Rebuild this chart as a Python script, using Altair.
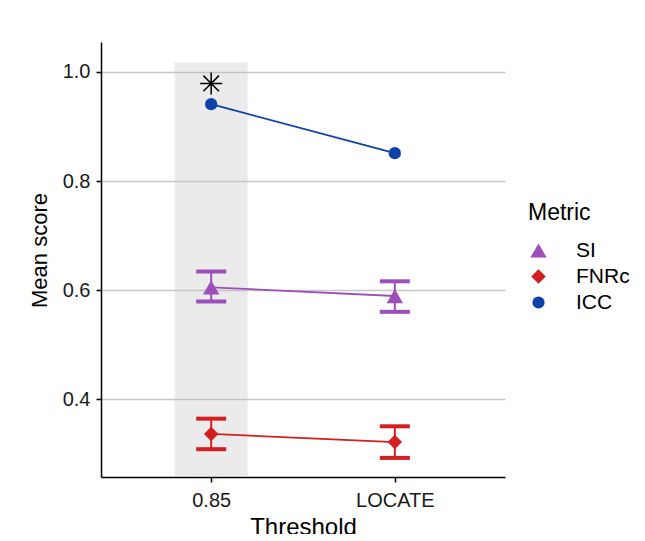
import altair as alt
import pandas as pd

thresholds = ["0.85", "LOCATE"]
metrics = ["SI", "FNRc", "ICC"]
colors = ["#9C4FBA", "#D41E20", "#0F42A8"]
shapes = ["triangle-up", "diamond", "circle"]
sizes = [270, 150, 100]

si_mean = [0.605, 0.589]
si_lo = [0.579, 0.560]
si_hi = [0.634, 0.616]
fnrc_mean = [0.336, 0.321]
fnrc_lo = [0.308, 0.292]
fnrc_hi = [0.364, 0.350]
icc_mean = [0.941, 0.851]

star_threshold = ["0.85"]
star_value = [0.979]

band_threshold = ["0.85"]
band_top = [1.018]
band_bottom = [0.257]

y_domain = [0.257, 1.055]
y_ticks = [0.4, 0.6, 0.8, 1.0]

rows = []
for i, t in enumerate(thresholds):
    rows.append(dict(Threshold=t, Metric="SI", mean=si_mean[i], lo=si_lo[i], hi=si_hi[i]))
    rows.append(dict(Threshold=t, Metric="FNRc", mean=fnrc_mean[i], lo=fnrc_lo[i], hi=fnrc_hi[i]))
    rows.append(dict(Threshold=t, Metric="ICC", mean=icc_mean[i], lo=None, hi=None))
df = pd.DataFrame(rows)
err = df.dropna(subset=["lo"])
star = pd.DataFrame(dict(Threshold=star_threshold, v=star_value))
band = pd.DataFrame(dict(Threshold=band_threshold, top=band_top, bottom=band_bottom))

xscale = alt.Scale(type="point", domain=thresholds, padding=0.6)
yscale = alt.Scale(domain=y_domain, nice=False, zero=False)
cscale = alt.Scale(domain=metrics, range=colors)
# stroke colours for lines / error bars: data-derived domain (same order), no legend
sscale = alt.Scale(range=colors)

xenc = alt.X("Threshold:N", scale=xscale, sort=thresholds,
             axis=alt.Axis(title="Threshold", labelAngle=0))
yaxis = alt.Axis(title="Mean score", values=y_ticks, format=".1f", grid=True)

legend = alt.Legend(
    title="Metric", orient="none", legendX=427, legendY=160,
    titleFontSize=23, titleFont="Liberation Sans", titleFontWeight="normal",
    titleColor="black", titlePadding=15,
    labelFontSize=21, labelFont="Liberation Sans", labelColor="black",
    rowPadding=4, padding=0, labelOffset=27,
)

stroke_enc = alt.Stroke("Metric:N", scale=sscale, sort=metrics, legend=None)

rect = alt.Chart(band).mark_bar(width=73, color="#BEBEBE", opacity=0.3).encode(
    x=xenc,
    y=alt.Y("top:Q", scale=yscale, axis=yaxis),
    y2="bottom:Q",
)

lines = alt.Chart(df).mark_line(strokeWidth=1.8).encode(
    x=xenc,
    y=alt.Y("mean:Q", scale=yscale, axis=yaxis),
    stroke=stroke_enc,
    detail="Metric:N",
)

rules = alt.Chart(err).mark_rule(strokeWidth=2).encode(
    x=xenc,
    y=alt.Y("lo:Q", scale=yscale, axis=yaxis),
    y2="hi:Q",
    stroke=stroke_enc,
)

ticks_lo = alt.Chart(err).mark_tick(size=28, thickness=2, opacity=1, filled=False, strokeWidth=2).encode(
    x=xenc,
    y=alt.Y("lo:Q", scale=yscale, axis=yaxis),
    stroke=stroke_enc,
)
ticks_hi = alt.Chart(err).mark_tick(size=28, thickness=2, opacity=1, filled=False, strokeWidth=2).encode(
    x=xenc,
    y=alt.Y("hi:Q", scale=yscale, axis=yaxis),
    stroke=stroke_enc,
)

points = alt.Chart(df).mark_point(filled=True, opacity=1).encode(
    x=xenc,
    y=alt.Y("mean:Q", scale=yscale, axis=yaxis),
    color=alt.Color("Metric:N", scale=cscale, legend=legend),
    shape=alt.Shape("Metric:N", scale=alt.Scale(domain=metrics, range=shapes), legend=legend),
    size=alt.Size("Metric:N", scale=alt.Scale(domain=metrics, range=sizes), legend=legend),
)

star_path = "M0,-1L0,1M-1,0L1,0M-0.707,-0.707L0.707,0.707M-0.707,0.707L0.707,-0.707"
stars = alt.Chart(star).mark_point(shape=star_path, size=484, filled=False,
                                   stroke="black", strokeWidth=1.5, opacity=1).encode(
    x=xenc,
    y=alt.Y("v:Q", scale=yscale, axis=yaxis),
)

chart = alt.layer(rect, lines, rules, ticks_lo, ticks_hi, points, stars).properties(
    width=404, height=435,
    autosize=alt.AutoSizeParams(type="none"),
    padding={"left": 93, "top": 34, "right": 125, "bottom": 57},
    background="white",
).configure_view(stroke=None).configure_axis(
    domainColor="black", domainWidth=1.5, tickColor="black", tickWidth=1.5, tickSize=5,
    labelFont="Liberation Sans", labelFontSize=20, labelColor="#1a1a1a", labelPadding=6,
    titleFont="Liberation Sans", titleFontWeight="normal", titleColor="black",
    gridColor="#C8C8C8", gridWidth=1.4,
).configure_axisX(grid=False, titlePadding=5, titleFontSize=24, labelPadding=8).configure_axisY(
    titleFontSize=22, titleX=-62, titleY=208, titleBaseline="middle", titleAngle=-90)

chart.save("out.html", embed_options={"renderer": "svg", "actions": False})
